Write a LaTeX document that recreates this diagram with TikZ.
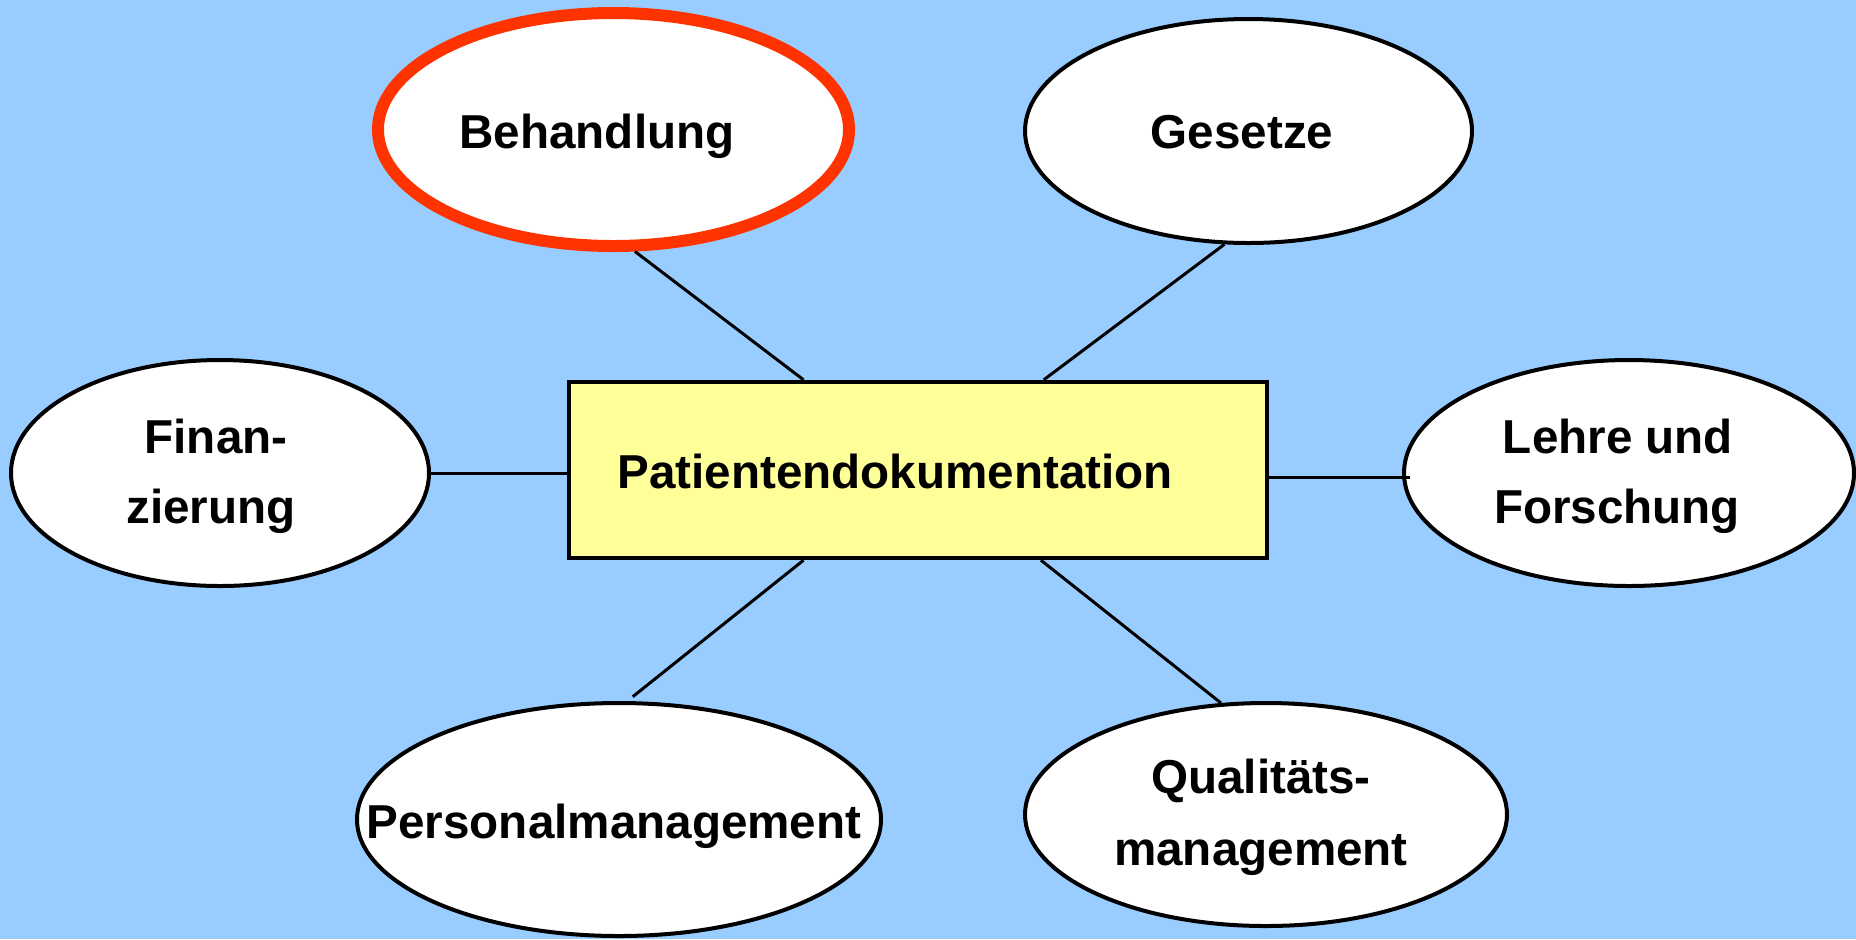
\documentclass[tikz,border=0pt]{standalone}
\usepackage{fontspec}
\setmainfont{Liberation Sans}
\usetikzlibrary{shapes.geometric,calc}
\definecolor{bgblue}{HTML}{99CCFF}
\definecolor{boxyellow}{HTML}{FFFF99}
\definecolor{hired}{HTML}{FF3300}

\begin{document}
\begin{tikzpicture}[x=0.5pt,y=-0.5pt,
  topic/.style={ellipse, draw=black, fill=white, line width=2pt, inner sep=0pt},
  focus/.style={topic, draw=hired, line width=6pt},
  caption/.style={anchor=base, inner sep=0pt, font=\fontsize{23.8}{28}\selectfont\bfseries},
  link/.style={draw=black, line width=1.5pt}]

% background
\fill[bgblue] (0,0) rectangle (1856,939);
\useasboundingbox (0,0) rectangle (1856,939);

% central box
\node[draw=black, fill=boxyellow, line width=2.2pt, minimum width=349pt,
      minimum height=88pt, inner sep=0pt] (box) at (918,470) {};
\node[caption] (box-text) at (895,488) {Patientendokumentation};

% surrounding topics
\node[focus, minimum width=235.5pt, minimum height=116.5pt] (beh) at (613.5,129.5) {};
\node[topic, minimum width=223.5pt, minimum height=112pt] (ges) at (1248.5,131) {};
\node[topic, minimum width=209pt, minimum height=113pt] (fin) at (220,473) {};
\node[topic, minimum width=225pt, minimum height=113pt] (lehre) at (1629,473) {};
\node[topic, minimum width=262pt, minimum height=116.5pt] (pers) at (619,819.5) {};
\node[topic, minimum width=241pt, minimum height=111.5pt] (qual) at (1266,814.5) {};

\node[caption] (beh-text) at (597,148) {Behandlung};
\node[caption] (ges-text) at (1242,148) {Gesetze};
\node[caption] (fin-text1) at (216,453) {Finan-};
\node[caption] (fin-text2) at (211,523) {zierung};
\node[caption] (lehre-text1) at (1618,453) {Lehre und};
\node[caption] (lehre-text2) at (1617,523) {Forschung};
\node[caption] (pers-text) at (614,838) {Personalmanagement};
\node[caption] (qual-text1) at (1261,793) {Qualitäts-};
\node[caption] (qual-text2) at (1261,865) {management};

% connectors
\coordinate (lehre-end) at (1410,477);
\draw[link] ($(box.north west)!0.337!(box.north east)$) -- (beh.-80.5);
\draw[link] ($(box.north west)!0.679!(box.north east)$) -- (ges.-102.6);
\draw[link] (fin.east) -- (fin.east -| box.west);
\draw[link] (box.east |- lehre-end) -- (lehre-end);
\draw[link, shorten >=3.5pt] ($(box.south west)!0.337!(box.south east)$) -- (pers.86.4);
\draw[link] ($(box.south west)!0.675!(box.south east)$) -- (qual.112);
\end{tikzpicture}
\end{document}
